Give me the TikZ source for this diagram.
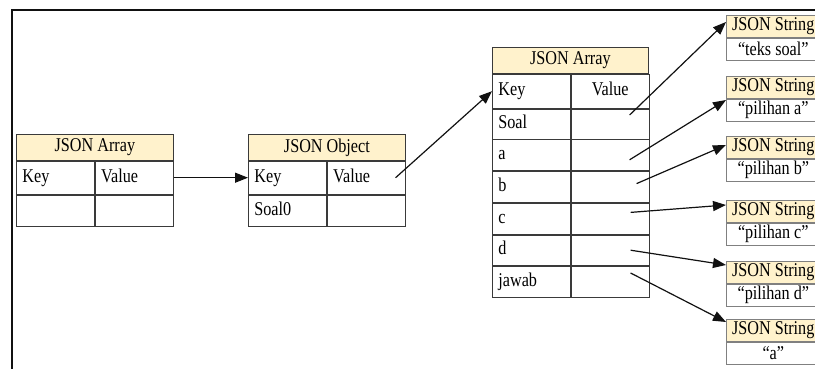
\documentclass[tikz,border=0pt]{standalone}
\usepackage{fontspec}
\setmainfont{Liberation Serif}[FakeStretch=0.83]
\usepackage{xcolor}
\usepackage{tikz}
\usetikzlibrary{arrows.meta,positioning}
\definecolor{headfill}{HTML}{FFF2CC}
\definecolor{gridline}{HTML}{3A3A3A}
\definecolor{strline}{HTML}{808080}
\definecolor{inkblack}{HTML}{111111}
\newcommand{\cellfont}{\fontsize{19.5}{22}\selectfont}
\tikzset{
  tblhead/.style={
    rectangle, draw=gridline, line width=0.8pt, fill=headfill,
    anchor=north west, inner sep=0pt, minimum height=26pt,
    font=\cellfont
  },
  keycell/.style={
    rectangle, draw=gridline, line width=0.8pt, anchor=north west,
    inner sep=0pt, inner xsep=6pt, text width=66pt, align=left,
    text height=13pt, text depth=4pt, minimum height=#1, font=\cellfont
  },
  valcell/.style={keycell=#1},
  strhead/.style={
    rectangle, draw=strline, line width=0.6pt, fill=headfill,
    anchor=north west, inner sep=0pt, minimum width=94pt,
    minimum height=22pt, font=\cellfont
  },
  strval/.style={
    rectangle, draw=strline, line width=0.6pt, anchor=north west,
    inner sep=0pt, minimum width=94pt, minimum height=22pt, font=\cellfont
  },
  jarrow/.style={-{Triangle[length=13pt,width=10pt]}, line width=1.2pt, color=inkblack},
  framepen/.style={line width=1.8pt, color=inkblack},
}
\begin{document}
\begin{tikzpicture}[x=1pt, y=-1pt]
  \useasboundingbox (0,0) rectangle (815,369);
  \draw[framepen] (12,380) -- (12,10) -- (830,10);

  % outer array
  \node[tblhead, minimum width=157pt] (ah) at (16,134) {JSON Array};
  \node[keycell=33pt] (ak) at (ah.south west) {Key};
  \node[valcell=33pt] (av) at (ak.north east) {Value};
  \node[keycell=31pt] (ak0) at (ak.south west) {};
  \node[valcell=31pt] (av0) at (ak0.north east) {};

  % object
  \node[tblhead, minimum width=157pt] (oh) at (248,134) {JSON Object};
  \node[keycell=33pt] (ok) at (oh.south west) {Key};
  \node[valcell=33pt] (ov) at (ok.north east) {Value};
  \node[keycell=31pt] (ok0) at (ok.south west) {Soal0};
  \node[valcell=31pt] (ov0) at (ok0.north east) {};

  % inner array
  \node[tblhead, minimum width=156pt] (rh) at (492,47) {JSON Array};
  \node[keycell=34pt, text width=66pt] (k0) at (rh.south west) {Key};
  \node[valcell=34pt, align=center] (v0) at (k0.north east) {Value};
  \node[keycell=30pt] (k1) at (k0.south west) {Soal};
  \node[valcell=30pt] (v1) at (k1.north east) {};
  \node[keycell=31pt] (k2) at (k1.south west) {a};
  \node[valcell=31pt] (v2) at (k2.north east) {};
  \node[keycell=31pt] (k3) at (k2.south west) {b};
  \node[valcell=31pt] (v3) at (k3.north east) {};
  \node[keycell=31pt] (k4) at (k3.south west) {c};
  \node[valcell=31pt] (v4) at (k4.north east) {};
  \node[keycell=30pt] (k5) at (k4.south west) {d};
  \node[valcell=30pt] (v5) at (k5.north east) {};
  \node[keycell=31pt] (k6) at (k5.south west) {jawab};
  \node[valcell=31pt] (v6) at (k6.north east) {};

  % strings
  \node[strhead] (s1h) at (726,15) {JSON String};
  \node[strval] (s1v) at (s1h.south west) {“teks soal”};
  \node[strhead] (s2h) at (726,76) {JSON String};
  \node[strval] (s2v) at (s2h.south west) {“pilihan a”};
  \node[strhead] (s3h) at (726,136) {JSON String};
  \node[strval] (s3v) at (s3h.south west) {“pilihan b”};
  \node[strhead] (s4h) at (726,200) {JSON String};
  \node[strval] (s4v) at (s4h.south west) {“pilihan c”};
  \node[strhead] (s5h) at (726,261) {JSON String};
  \node[strval] (s5v) at (s5h.south west) {“pilihan d”};
  \node[strhead] (s6h) at (726,319) {JSON String};
  \node[strval] (s6v) at (s6h.south west) {“a”};

  \draw[jarrow] (av.east) -- (ok.west);
  \draw[jarrow] ([shift={(-10,0)}]ov.east) -- (k0.west);
  \foreach \i/\sx/\sy/\ey in {1/-20/-9/7, 2/-20/4.5/24, 3/-13/-3.5/9,
                              4/-19/-6.5/5, 5/-19/0/4, 6/-19/-8.5/3}
    \draw[jarrow] ([shift={(\sx,\sy)}]v\i.east) -- ([shift={(0,\ey)}]s\i h.north west);
\end{tikzpicture}
\end{document}
